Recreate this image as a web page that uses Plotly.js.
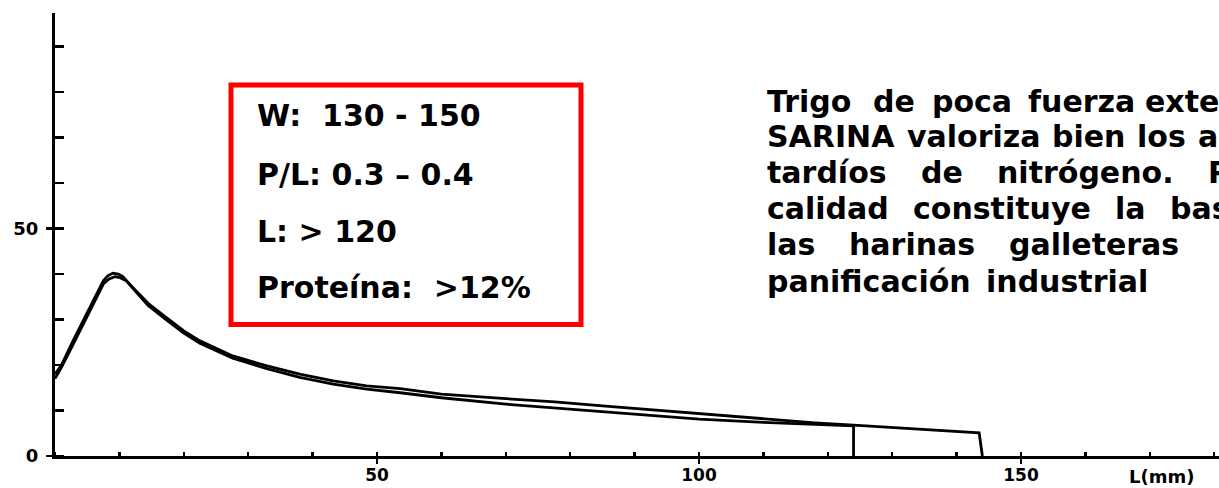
<!DOCTYPE html>
<html><head><meta charset="utf-8">
<script src="https://cdn.plot.ly/plotly-3.0.1.min.js"></script>
<style>html,body{margin:0;padding:0;background:#fff;overflow:hidden}</style>
</head><body><div id="chart" style="width:1219px;height:488px"></div>
<script>
// Curve A (longer curve, ends at L ~ 144)
const curveA_L = [0, 1, 2.8, 5.4, 7.5, 8.2, 9, 9.8, 10.5, 12.1, 14.5, 17.4, 20, 22.5, 27.6, 32.9, 38, 43.2, 48.4, 53.6, 60, 70, 77.6, 85, 93, 100, 110, 118, 124, 131, 137, 143.5, 144];
const curveA_P = [18, 20, 25.3, 32.5, 38.5, 39.6, 40.2, 40.0, 39.5, 37, 33.5, 30.3, 27.5, 25.3, 22, 19.8, 18, 16.5, 15.4, 14.8, 13.6, 12.6, 11.9, 11.0, 10.1, 9.4, 8.2, 7.3, 6.8, 6.2, 5.7, 5.1, 0];
// Curve B (shorter curve, ends at L ~ 124)
const curveB_L = [0, 1, 2.8, 5.4, 7.5, 8.4, 9.3, 10.1, 11, 12.5, 14.5, 17.4, 20, 22.5, 27.6, 32.9, 38, 43.2, 48.4, 53.6, 60, 70, 77.6, 85, 93, 100, 110, 118, 124, 124];
const curveB_P = [17, 19.5, 24.5, 31.8, 37.8, 38.9, 39.4, 39.2, 38.6, 36.2, 33, 29.8, 27, 24.8, 21.5, 19.2, 17.3, 15.8, 14.7, 13.9, 12.8, 11.4, 10.6, 9.8, 8.9, 8.1, 7.4, 6.9, 6.6, 0];

const xTickVals = [50, 100, 150];
const xTickText = ['50', '100', '150'];
const yTickVals = [0, 50];
const yTickText = ['0', '50'];
const axisLabel = 'L(mm)';

const boxLines = ['W:  130 - 150', 'P/L: 0.3 \u2013 0.4', 'L: > 120', 'Prote\u00edna:  >12%'];
const noteLines = [
  ['Trigo', 'de', 'poca', 'fuerza', 'exte'],
  ['SARINA', 'valoriza', 'bien', 'los', 'a'],
  ['tard\u00edos', 'de', 'nitr\u00f3geno.', 'P'],
  ['calidad', 'constituye', 'la', 'bas'],
  ['las', 'harinas', 'galleteras'],
  ['panificaci\u00f3n', 'industrial']
];

// ---- layout geometry (pixels) ----
const W = 1219, H = 488, ML = 55, MR = 0, MT = 13, MB = 32;
const PW = W - ML - MR, PH = H - MT - MB;
const px = x => (x - ML) / PW;
const py = y => (H - MB - y) / PH;

const noteWordX = [
  [765, 871, 930, 1026, 1143],
  [765, 905, 1050, 1135, 1196],
  [765, 919, 995, 1206],
  [765, 911, 1113, 1168],
  [765, 847, 1007],
  [765, 984]
];
const noteLineY = [101, 136, 172, 208, 244, 281];
const boxLineY = [116, 174, 231, 287];

const annFont = {family: 'DejaVu Sans', size: 30, color: '#000', weight: 'bold'};
const annotations = [];
boxLines.forEach((t, i) => annotations.push({
  text: t, xref: 'paper', yref: 'paper', x: px(255), y: py(boxLineY[i]),
  xanchor: 'left', yanchor: 'middle', showarrow: false, font: annFont
}));
noteLines.forEach((words, i) => words.forEach((w, j) => annotations.push({
  text: w, xref: 'paper', yref: 'paper', x: px(noteWordX[i][j]), y: py(noteLineY[i]),
  xanchor: 'left', yanchor: 'middle', showarrow: false, font: annFont
})));
annotations.push({
  text: axisLabel, xref: 'paper', yref: 'paper', x: px(1161), y: py(476),
  xanchor: 'center', yanchor: 'middle', showarrow: false,
  font: {family: 'DejaVu Sans', size: 18, color: '#000', weight: 'bold'}
});

const lineStyle = {color: '#000', width: 2.8, shape: 'linear'};
const traces = [
  {x: curveA_L, y: curveA_P, mode: 'lines', line: lineStyle, hoverinfo: 'skip'},
  {x: curveB_L, y: curveB_P, mode: 'lines', line: lineStyle, hoverinfo: 'skip'}
];

const tickFont = {family: 'DejaVu Sans', size: 18, color: '#000', weight: 'bold'};
const layout = {
  width: W, height: H,
  margin: {l: ML, r: MR, t: MT, b: MB, pad: 0},
  paper_bgcolor: '#fff', plot_bgcolor: '#fff',
  showlegend: false,
  xaxis: {
    range: [0, PW / 6.44], showgrid: false, zeroline: false,
    showline: true, linecolor: '#000', linewidth: 3,
    tickmode: 'array', tickvals: xTickVals, ticktext: xTickText,
    ticks: 'outside', ticklen: 5, tickwidth: 2.5, tickcolor: '#000',
    tickfont: {family: 'DejaVu Sans', size: 17, color: '#000', weight: 'bold'},
    ticklabelstandoff: -3,
    minor: {dtick: 10, tick0: 0, ticks: 'inside', ticklen: 4, tickwidth: 2.5, tickcolor: '#000'}
  },
  yaxis: {
    range: [0, PH / 4.55], showgrid: false, zeroline: false,
    showline: true, linecolor: '#000', linewidth: 3,
    tickmode: 'array', tickvals: yTickVals, ticktext: yTickText,
    ticks: 'outside', ticklen: 6, tickwidth: 2.5, tickcolor: '#000',
    tickfont: tickFont, ticklabelstandoff: 4,
    minor: {dtick: 10, tick0: 0, ticks: 'inside', ticklen: 9, tickwidth: 2.5, tickcolor: '#000'}
  },
  shapes: [{
    type: 'rect', xref: 'paper', yref: 'paper',
    x0: px(231), x1: px(581), y0: py(324.5), y1: py(85),
    line: {color: '#ff0000', width: 5}, fillcolor: 'rgba(0,0,0,0)'
  }],
  annotations: annotations
};

Plotly.newPlot('chart', traces, layout, {displayModeBar: false, staticPlot: true});
</script>
</body></html>
